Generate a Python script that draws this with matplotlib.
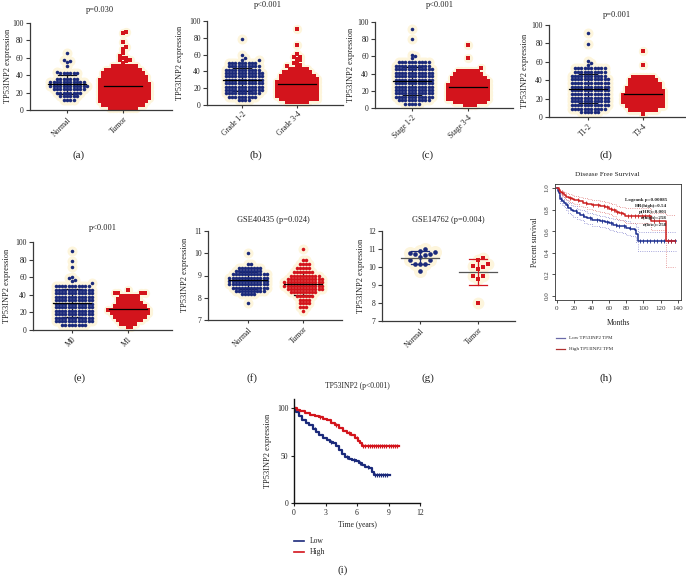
import numpy as np
import matplotlib.pyplot as plt

plt.rcParams['font.family'] = ['Liberation Serif', 'DejaVu Serif']

# ---- data ----
# (a) Normal / Tumor
a_normal_levels = [12, 16, 20, 24, 28, 32, 36, 42, 44, 50]
a_normal_counts = [4, 6, 8, 10, 12, 11, 7, 6, 1, 1]
a_normal_extra = [55, 56, 57, 65]
a_tumor_levels = [2, 6, 10, 14, 18, 22, 26, 30, 34, 38, 42, 46, 50]
a_tumor_counts = [9, 13, 15, 16, 16, 16, 16, 16, 15, 14, 13, 11, 8]
a_tumor_extra = [54, 56, 57, 57, 60, 60, 62, 65, 70, 72, 78, 88, 90]

# (b) Grade
b_low_levels = [6, 10, 14, 18, 22, 26, 30, 34, 38, 42, 46, 50]
b_low_counts = [4, 9, 11, 12, 12, 12, 12, 12, 12, 11, 10, 9]
b_low_extra = [53, 54, 56, 60, 79]
b_high_levels = [3, 7, 11, 15, 19, 23, 27, 31, 35, 39, 43]
b_high_counts = [7, 12, 13, 13, 13, 13, 13, 12, 11, 9, 6]
b_high_extra = [46, 47, 48, 50, 51, 53, 55, 57, 57, 61, 72, 91]

# (c) Stage
c_low_levels = [5, 9, 13, 17, 21, 25, 29, 33, 37, 41, 45, 49, 53]
c_low_counts = [5, 10, 12, 12, 12, 12, 12, 12, 12, 12, 12, 11, 10]
c_low_extra = [58, 60, 62, 80, 92]
c_high_levels = [3, 7, 11, 15, 19, 23, 27, 31, 35, 39, 43]
c_high_counts = [4, 10, 13, 13, 13, 13, 13, 12, 11, 9, 7]
c_high_extra = [46, 58, 73]

# (d) T stage
d_low_levels = [5, 9, 13, 17, 21, 25, 29, 33, 37, 41, 45, 49, 53]
d_low_counts = [6, 11, 12, 12, 12, 12, 12, 12, 12, 12, 11, 10, 10]
d_low_extra = [57, 59, 61, 79, 91]
d_high_levels = [3, 8, 12, 16, 20, 24, 28, 32, 36, 40, 44]
d_high_counts = [1, 9, 12, 13, 13, 13, 12, 11, 10, 9, 7]
d_high_extra = [57, 72]

# (e) M stage
e_low_levels = [6, 10, 14, 18, 22, 26, 30, 34, 38, 42, 46, 50]
e_low_counts = [8, 12, 12, 12, 12, 12, 12, 12, 12, 12, 12, 11]
e_low_extra = [53, 56, 57, 59, 60, 72, 78, 90]
e_high_levels = [3, 7, 11, 15, 19, 23, 27, 31, 35, 39, 42, 45]
e_high_counts = [2, 5, 8, 10, 12, 13, 10, 8, 7, 6, 4, 1]

# (f) GSE40435
f_low_levels = [7.75, 8.15, 8.3, 8.45, 8.6, 8.75, 8.9, 9.05, 9.2, 9.35, 9.5, 10.0]
f_low_counts = [1, 5, 10, 12, 13, 13, 13, 12, 9, 8, 2, 1]
f_high_levels = [7.4, 7.6, 7.75, 7.9, 8.1, 8.25, 8.4, 8.55, 8.7, 8.85, 9.0, 9.15, 9.35, 9.5, 9.7, 10.2]
f_high_counts = [1, 3, 4, 4, 6, 9, 12, 13, 13, 12, 10, 7, 5, 4, 2, 1]

# (g) GSE14762
g_normal = [11.02, 10.83, 10.8, 10.74, 10.7, 10.87, 10.69, 10.56, 10.4, 10.4, 10.19, 10.15, 10.15, 9.78]
g_tumor = [10.52, 10.37, 10.07, 10.0, 10.15, 9.89, 9.48, 9.48, 9.31, 8.0]

# (h) GEPIA disease free survival
h_low_t = [0, 1, 2, 3, 4, 6, 8, 10, 13, 16, 19, 23, 27, 31, 35, 40, 45, 50, 55, 60, 65, 70, 75, 80, 85, 90, 92, 94, 138]
h_low_s = [1.0, 0.97, 0.95, 0.92, 0.9, 0.88, 0.86, 0.84, 0.815, 0.8, 0.785, 0.765, 0.75, 0.735, 0.72, 0.705,
           0.7, 0.695, 0.685, 0.672, 0.66, 0.652, 0.645, 0.63, 0.62, 0.61, 0.57, 0.51, 0.51]
h_low_up = [1.0, 0.99, 0.975, 0.955, 0.94, 0.92, 0.9, 0.885, 0.86, 0.845, 0.83, 0.81, 0.8, 0.785, 0.77, 0.755,
            0.75, 0.745, 0.735, 0.725, 0.715, 0.705, 0.7, 0.69, 0.68, 0.67, 0.635, 0.59, 0.59]
h_low_lo = [1.0, 0.95, 0.925, 0.89, 0.865, 0.84, 0.82, 0.795, 0.77, 0.75, 0.735, 0.715, 0.7, 0.68, 0.665, 0.65,
            0.645, 0.64, 0.63, 0.615, 0.6, 0.59, 0.585, 0.565, 0.555, 0.545, 0.5, 0.42, 0.42]
h_high_t = [0, 2, 4, 6, 8, 11, 14, 17, 20, 25, 30, 35, 40, 45, 50, 55, 60, 64, 68, 72, 76, 79, 109, 126, 137]
h_high_s = [1.0, 0.98, 0.965, 0.95, 0.935, 0.92, 0.91, 0.9, 0.89, 0.878, 0.865, 0.855, 0.845, 0.84, 0.83,
            0.82, 0.81, 0.8, 0.775, 0.765, 0.755, 0.745, 0.69, 0.51, 0.51]
h_high_up = [1.0, 0.995, 0.985, 0.975, 0.965, 0.955, 0.945, 0.935, 0.93, 0.92, 0.91, 0.9, 0.89, 0.885, 0.88,
             0.87, 0.86, 0.855, 0.835, 0.825, 0.82, 0.815, 0.77, 0.75, 0.75]
h_high_lo = [1.0, 0.965, 0.945, 0.925, 0.905, 0.885, 0.875, 0.86, 0.85, 0.835, 0.82, 0.81, 0.8, 0.79, 0.78,
             0.77, 0.755, 0.745, 0.715, 0.705, 0.695, 0.68, 0.61, 0.27, 0.27]
h_low_cens = [5, 12, 22, 30, 38, 46, 52, 58, 63, 68, 72, 78, 84, 96, 100, 104, 108, 112, 116, 120, 124, 128, 132, 136]
h_high_cens = [6, 15, 24, 33, 42, 48, 54, 58, 62, 66, 70, 74, 82, 86, 90, 94, 98, 102, 106, 112, 118, 128, 132, 136]
h_stats = ['Logrank p=0.00085', 'HR(high)=0.54', 'p(HR)=0.001', 'n(high)=258', 'n(low)=258']

# (i) overall survival
i_low_t = [0, 0.2, 0.5, 0.8, 1.1, 1.4, 1.8, 2.1, 2.4, 2.8, 3.1, 3.4, 3.7, 4.0, 4.3, 4.6, 4.9, 5.2, 5.5,
           5.9, 6.2, 6.5, 6.8, 7.1, 7.4, 7.6, 9.1]
i_low_s = [100, 96, 92, 88, 85, 82, 78, 75, 72, 69, 66.5, 65, 63, 60, 56, 52, 49, 47, 45, 44, 42, 40, 38,
           36.5, 33, 30, 30]
i_high_t = [0, 0.3, 0.6, 1.0, 1.5, 2.0, 2.4, 2.8, 3.1, 3.5, 3.9, 4.3, 4.7, 5.0, 5.4, 5.8, 6.1, 6.3, 6.5, 10.0]
i_high_s = [100, 98.5, 97, 95.5, 93.5, 91.5, 90.5, 89, 87.5, 85, 82, 79, 76.5, 74.5, 72, 69, 66, 63, 60, 60]
i_low_cens = [2.0, 3.5, 5.0, 5.7, 6.3, 7.0, 7.7, 7.9, 8.1, 8.3, 8.5, 8.7, 8.9]
i_high_cens = [2.5, 4.0, 5.2, 6.0, 6.6, 6.8, 7.0, 7.2, 7.4, 7.6, 7.8, 8.0, 8.2, 8.4, 8.6, 8.8, 9.0, 9.2, 9.4, 9.6, 9.8]

# ---- figure ----
W, H = 686, 579
fig = plt.figure(figsize=(W / 100, H / 100), dpi=100)

NAVY = '#1b2a7b'
RED = '#d3141c'
HALO = '#fdf5dc'
SPINE = '#3a3a3a'


def px_axes(left, top, right, bottom):
    return fig.add_axes([left / W, 1 - bottom / H, (right - left) / W, (bottom - top) / H])


def ftext(x, y, s, **kw):
    fig.text(x / W, 1 - y / H, s, **kw)


def expand(levels, counts, extra=()):
    return np.concatenate([np.repeat(np.asarray(levels, float), counts), np.asarray(extra, float)])


def swarm(vals, ypx, d):
    # greedy beeswarm in pixel units, returns x offsets in px
    order = np.argsort(vals, kind='stable')
    xs = np.zeros(len(vals))
    px, py = [], []
    cand = [0]
    for k in range(1, 80):
        cand += [k, -k]
    for i in order:
        y = vals[i] * ypx
        ax_ = np.array(px)
        ay_ = np.array(py)
        if len(ay_):
            near = np.abs(ay_ - y) < d
            nx, ny = ax_[near], ay_[near]
        else:
            nx = ny = np.zeros(0)
        for k in cand:
            x = k * d
            if len(nx) == 0 or np.all((nx - x) ** 2 + (ny - y) ** 2 >= d * d * 0.999):
                break
        xs[i] = x
        px.append(x)
        py.append(y)
    return xs


def column_panel(rect, centers, ylim, yticks, groups, labels, d, mean_color='black', own_err=False):
    left, top, right, bottom = rect
    c1, c2 = centers
    span = c2 - c1
    ax = px_axes(left, top, right, bottom)
    ax.set_xlim(1 - (c1 - left) / span, 2 + (right - c2) / span)
    ax.set_ylim(ylim)
    ypx = (bottom - top) / (ylim[1] - ylim[0])
    for k, (vals, color, marker, size) in enumerate(groups):
        vals = np.asarray(vals, float)
        x = k + 1 + swarm(vals, ypx, d) / span
        ax.scatter(x, vals, s=size * 8, c=HALO, marker='o', lw=0, zorder=1, clip_on=False)
        ax.scatter(x, vals, s=size, c=color, marker=marker, lw=0, zorder=2, clip_on=False)
        m, sd = vals.mean(), vals.std(ddof=1)
        hw, cw = 19 / span, 9 / span
        ecol = color if own_err else '#111111'
        ez = 3 if own_err else 1.5
        ax.plot([k + 1 - hw, k + 1 + hw], [m, m], color=mean_color, lw=0.9, zorder=3)
        ax.plot([k + 1, k + 1], [m - sd, m + sd], color=ecol, lw=0.9, zorder=ez)
        for yy in (m - sd, m + sd):
            ax.plot([k + 1 - cw, k + 1 + cw], [yy, yy], color=ecol, lw=0.9, zorder=ez)
    ax.set_yticks(yticks)
    ax.set_xticks([1, 2])
    ax.set_xticklabels(labels, rotation=45, ha='right', va='top', rotation_mode='anchor', fontsize=5.5)
    for s in ('top', 'right'):
        ax.spines[s].set_visible(False)
    for s in ('left', 'bottom'):
        ax.spines[s].set_color(SPINE)
        ax.spines[s].set_linewidth(0.9)
    ax.tick_params(axis='y', length=3, width=0.8, labelsize=5.5, pad=1.5, colors=SPINE, labelcolor='#222')
    ax.tick_params(axis='x', length=2.5, width=0.8, pad=1.5, colors=SPINE, labelcolor='#222')
    return ax


ylab = 'TP53INP2 expression'
ticks100 = [0, 20, 40, 60, 80, 100]
mc = 6.5   # circle size
mq = 5.6   # square size

column_panel((30, 23, 172, 110), (67, 123), (0, 100), ticks100,
             [(expand(a_normal_levels, a_normal_counts, a_normal_extra), NAVY, 'o', mc),
              (expand(a_tumor_levels, a_tumor_counts, a_tumor_extra), RED, 's', mq)],
             ['Normal', 'Tumor'], 3.3)
column_panel((207, 21, 343, 105), (242, 297), (0, 100), ticks100,
             [(expand(b_low_levels, b_low_counts, b_low_extra), NAVY, 'o', mc),
              (expand(b_high_levels, b_high_counts, b_high_extra), RED, 's', mq)],
             ['Grade 1-2', 'Grade 3-4'], 3.3)
column_panel((375, 22, 513, 108), (412, 468), (0, 100), ticks100,
             [(expand(c_low_levels, c_low_counts, c_low_extra), NAVY, 'o', mc),
              (expand(c_high_levels, c_high_counts, c_high_extra), RED, 's', mq)],
             ['Stage 1-2', 'Stage 3-4'], 3.3)
column_panel((549, 25, 685, 117), (588, 643), (0, 100), ticks100,
             [(expand(d_low_levels, d_low_counts, d_low_extra), NAVY, 'o', mc),
              (expand(d_high_levels, d_high_counts, d_high_extra), RED, 's', mq)],
             ['T1-2', 'T3-4'], 3.3)
column_panel((33, 242, 172, 330), (72, 128), (0, 100), ticks100,
             [(expand(e_low_levels, e_low_counts, e_low_extra), NAVY, 'o', mc),
              (expand(e_high_levels, e_high_counts), RED, 's', mq)],
             ['M0', 'M1'], 3.3)
column_panel((208, 231, 342, 320), (248, 303), (7, 11), [7, 8, 9, 10, 11],
             [(expand(f_low_levels, f_low_counts), NAVY, 'o', mc),
              (expand(f_high_levels, f_high_counts), RED, 'o', mc)],
             ['Normal', 'Tumor'], 3.1)
column_panel((382, 231, 515, 321), (420, 478), (7, 12), [7, 8, 9, 10, 11, 12],
             [(g_normal, NAVY, 'o', 11), (g_tumor, RED, 's', 9)],
             ['Normal', 'Tumor'], 5.0, mean_color='#555555', own_err=True)

# titles, y labels, panel letters
for x, y, s in [(100, 10, 'p=0.030'), (268, 5, 'p<0.001'), (440, 5, 'p<0.001'), (617, 15, 'p=0.001'),
                (103, 228, 'p<0.001'), (273, 220, 'GSE40435 (p=0.024)'), (448, 220, 'GSE14762 (p=0.004)')]:
    ftext(x, y, s, ha='center', va='center', fontsize=6, color='#222')
for x, y in [(8, 66), (180, 63), (351, 65), (525, 71), (7, 286), (185, 275), (361, 276), (268, 451)]:
    ftext(x, y, ylab, ha='center', va='center', rotation=90, fontsize=6, color='#222')
for x, y, s in [(79, 155, '(a)'), (256, 155, '(b)'), (428, 155, '(c)'), (606, 155, '(d)'),
                (80, 378, '(e)'), (252, 378, '(f)'), (428, 378, '(g)'), (606, 378, '(h)'), (343, 570, '(i)')]:
    ftext(x, y, s, ha='center', va='center', fontsize=8, color='#222')

# (h) Disease free survival
axh = px_axes(555, 183.7, 681, 300.3)
axh.set_xlim(-2.3, 143.5)
axh.set_ylim(-0.04, 1.04)
for t, s, up, lo, cens, col, bcol in [(h_low_t, h_low_s, h_low_up, h_low_lo, h_low_cens, '#1d2f8f', '#8a8ad0'),
                                       (h_high_t, h_high_s, h_high_up, h_high_lo, h_high_cens, '#cc1f1f', '#e08080')]:
    axh.step(t, up, where='post', color=bcol, lw=0.6, ls=':')
    axh.step(t, lo, where='post', color=bcol, lw=0.6, ls=':')
    axh.step(t, s, where='post', color=col, lw=1.1)
    ct = np.asarray(cens, float)
    cs = np.asarray(s)[np.searchsorted(t, ct, side='right') - 1]
    axh.scatter(ct, cs, marker='|', s=6, c=col, lw=0.6)
axh.set_xticks(range(0, 141, 20))
axh.set_yticks([0, 0.2, 0.4, 0.6, 0.8, 1.0])
axh.set_yticklabels(['0.0', '0.2', '0.4', '0.6', '0.8', '1.0'], rotation=90, va='center')
axh.tick_params(length=2.5, width=0.6, labelsize=5, pad=1.5, colors='#333')
for sp in axh.spines.values():
    sp.set_linewidth(0.6)
    sp.set_color('#333')
ftext(607, 175, 'Disease Free Survival', ha='center', va='center', fontsize=5.2, color='#222')
ftext(618, 323, 'Months', ha='center', va='center', fontsize=5.5, color='#222')
ftext(535, 242, 'Percent survival', ha='center', va='center', rotation=90, fontsize=5.5, color='#222')
for k, s in enumerate(h_stats):
    ftext(667, 200 + 6.1 * k, s, ha='right', va='center', fontsize=3.6, color='#222', fontweight='bold')
fig.add_artist(plt.Line2D([556 / W, 565 / W], [1 - 338 / H] * 2, color='#6a6aa8', lw=0.9))
fig.add_artist(plt.Line2D([556 / W, 565 / W], [1 - 349 / H] * 2, color='#b03030', lw=0.9))
ftext(569, 338, 'Low TP53INP2 TPM', ha='left', va='center', fontsize=3.6, color='#222')
ftext(569, 349, 'High TP53INP2 TPM', ha='left', va='center', fontsize=3.6, color='#222')

# (i) overall survival
axi = px_axes(294, 399, 420, 503)
axi.set_xlim(0, 12)
axi.set_ylim(0, 110)
for t, s, cens, col in [(i_low_t, i_low_s, i_low_cens, NAVY), (i_high_t, i_high_s, i_high_cens, RED)]:
    axi.step(t, s, where='post', color=col, lw=1.6)
    ct = np.asarray(cens, float)
    cs = np.asarray(s)[np.searchsorted(t, ct, side='right') - 1]
    axi.scatter(ct, cs, marker='|', s=10, c=col, lw=0.8)
axi.set_xticks([0, 3, 6, 9, 12])
axi.set_yticks([0, 50, 100])
for s in ('top', 'right'):
    axi.spines[s].set_visible(False)
for s in ('left', 'bottom'):
    axi.spines[s].set_linewidth(1.0)
    axi.spines[s].set_color('#111')
axi.tick_params(length=2.5, width=0.8, labelsize=5.5, pad=1.5, colors='#222')
ftext(357, 386, 'TP53INP2 (p<0.001)', ha='center', va='center', fontsize=5.5, color='#222')
ftext(357, 525, 'Time (years)', ha='center', va='center', fontsize=5.5, color='#222')
fig.add_artist(plt.Line2D([294 / W, 304 / W], [1 - 541 / H] * 2, color=NAVY, lw=1.2))
fig.add_artist(plt.Line2D([294 / W, 304 / W], [1 - 552 / H] * 2, color=RED, lw=1.2))
ftext(310, 541, 'Low', ha='left', va='center', fontsize=5.5, color='#222')
ftext(310, 552, 'High', ha='left', va='center', fontsize=5.5, color='#222')

fig.savefig('out.png', dpi=100)
